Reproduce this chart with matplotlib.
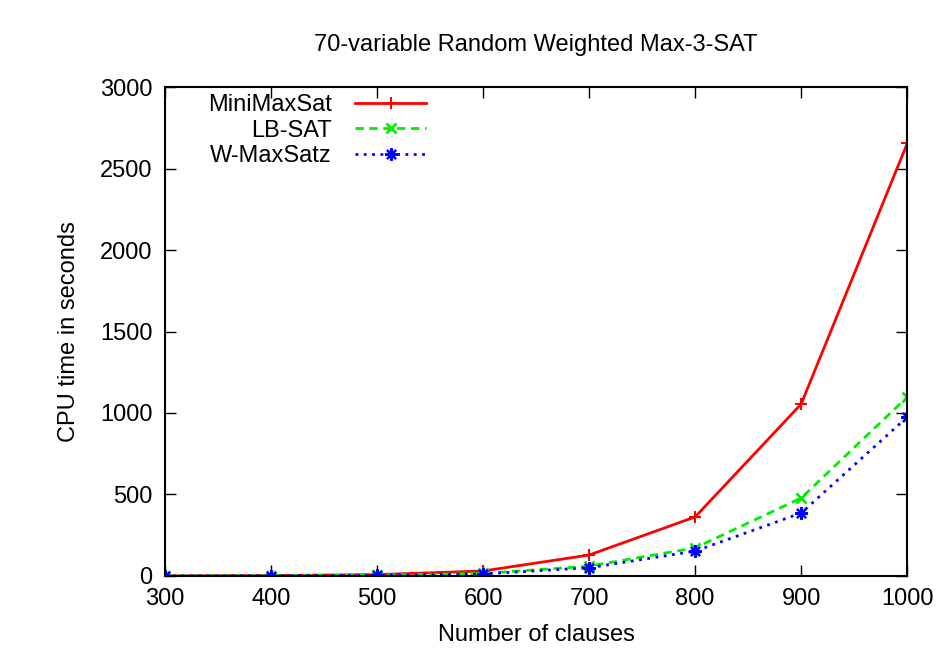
import matplotlib
matplotlib.use('Agg')
import matplotlib.pyplot as plt

plt.rcParams['font.family'] = ['Liberation Sans', 'DejaVu Sans']

clauses = [300, 400, 500, 600, 700, 800, 900, 1000]
minimaxsat = [0, 2, 8, 30, 128, 362, 1055, 2655]
lb_sat = [0, 1, 4, 15, 60, 172, 478, 1098]
w_maxsatz = [0, 1, 3, 12, 50, 152, 386, 975]


def main():
    fig = plt.figure(figsize=(9.53, 6.5), dpi=100)
    ax = fig.add_axes([0.173, 0.114, 0.779, 0.752])

    ax.plot(clauses, minimaxsat, color='#ff0000', linestyle='-', linewidth=2,
            marker='+', markersize=8, markeredgewidth=1.5, label='MiniMaxSat')
    ax.plot(clauses, lb_sat, color='#00ee00', linestyle=(0, (3, 2)), linewidth=2,
            marker='x', markersize=7, markeredgewidth=2, label='LB-SAT')
    ax.plot(clauses, w_maxsatz, color='#0000ff', linestyle=(0, (1, 2)), linewidth=2,
            marker=(8, 2, 0), markersize=9, markeredgewidth=1.6, label='W-MaxSatz')

    ax.set_xlim(300, 1000)
    ax.set_ylim(0, 3000)
    ax.set_xticks(clauses)
    ax.set_yticks(range(0, 3001, 500))
    ax.tick_params(direction='in', length=8, width=1, top=True, right=True,
                   labelsize=17, pad=9)
    for s in ax.spines.values():
        s.set_linewidth(1.5)

    ax.set_xlabel('Number of clauses', fontsize=17, labelpad=10)
    ax.set_ylabel('CPU time in seconds', fontsize=17, labelpad=14)
    ax.set_title('70-variable Random Weighted Max-3-SAT', fontsize=17, pad=26)

    ax.legend(loc='upper left', bbox_to_anchor=(0.045, 1.005), frameon=False,
              markerfirst=False, fontsize=17, handlelength=3.0,
              labelspacing=0.15, handletextpad=1.0, borderaxespad=0.0)

    fig.savefig('out.png', dpi=100)
    plt.close(fig)


if __name__ == '__main__':
    main()
